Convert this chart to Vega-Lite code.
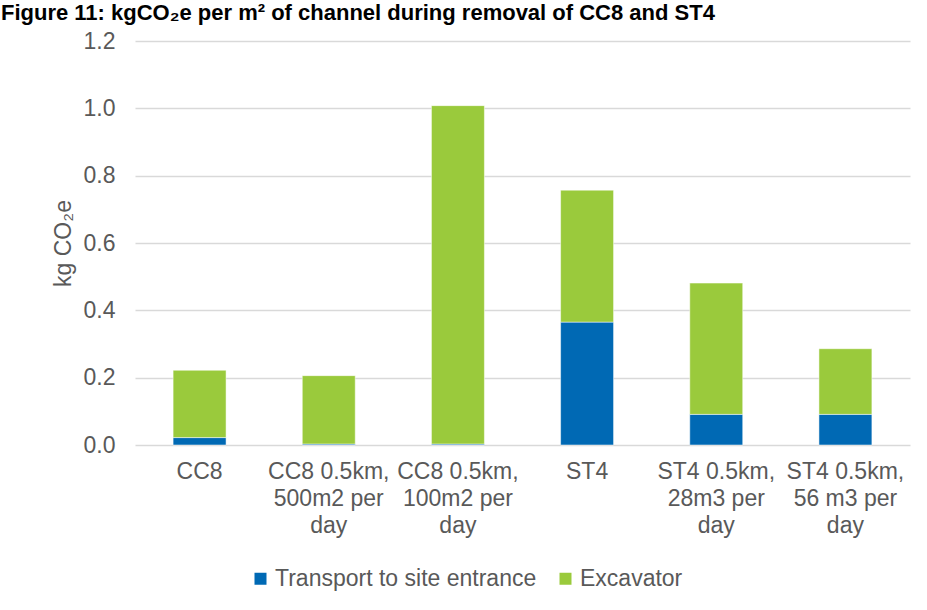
{
  "$schema": "https://vega.github.io/schema/vega-lite/v6.json",
  "autosize": {"type": "none"},
  "width": 775,
  "height": 404,
  "padding": {"left": 135, "top": 41, "right": 17, "bottom": 165},
  "background": "white",
  "title": {
    "text": "Figure 11: kgCO₂e per m² of channel during removal of CC8 and ST4",
    "anchor": "start",
    "frame": "group",
    "dx": -134,
    "dy": 13,
    "offset": 1,
    "fontSize": 22,
    "fontWeight": "bold",
    "font": "Liberation Sans",
    "color": "#000000",
    "baseline": "alphabetic"
  },
  "config": {
    "font": "Liberation Sans",
    "view": {"stroke": null}
  },
  "data": {
    "values": [
      {"scenario": "CC8", "source": "Transport to site entrance", "value": 0.022},
      {"scenario": "CC8", "source": "Excavator", "value": 0.2},
      {"scenario": "CC8 0.5km,|500m2 per|day", "source": "Transport to site entrance", "value": 0.003},
      {"scenario": "CC8 0.5km,|500m2 per|day", "source": "Excavator", "value": 0.203},
      {"scenario": "CC8 0.5km,|100m2 per|day", "source": "Transport to site entrance", "value": 0.003},
      {"scenario": "CC8 0.5km,|100m2 per|day", "source": "Excavator", "value": 1.005},
      {"scenario": "ST4", "source": "Transport to site entrance", "value": 0.365},
      {"scenario": "ST4", "source": "Excavator", "value": 0.392},
      {"scenario": "ST4 0.5km,|28m3 per|day", "source": "Transport to site entrance", "value": 0.091},
      {"scenario": "ST4 0.5km,|28m3 per|day", "source": "Excavator", "value": 0.39},
      {"scenario": "ST4 0.5km,|56 m3 per|day", "source": "Transport to site entrance", "value": 0.091},
      {"scenario": "ST4 0.5km,|56 m3 per|day", "source": "Excavator", "value": 0.195}
    ]
  },
  "mark": {"type": "bar", "stroke": "white", "strokeWidth": 0.5},
  "encoding": {
    "x": {
      "field": "scenario",
      "type": "nominal",
      "sort": null,
      "scale": {"paddingInner": 0.59, "paddingOuter": 0.295},
      "axis": {
        "title": null,
        "labelAngle": 0,
        "labelExpr": "split(datum.label, '|')",
        "labelFont": "Liberation Sans",
        "labelFontSize": 23,
        "labelColor": "#595959",
        "labelLineHeight": 27,
        "labelPadding": 15,
        "labelOverlap": false,
        "ticks": false,
        "domain": false,
        "labelBaseline": "top",
        "labelLimit": 300
      }
    },
    "y": {
      "field": "value",
      "type": "quantitative",
      "aggregate": "sum",
      "scale": {"domain": [0, 1.2], "nice": false},
      "axis": {
        "title": "kg CO₂e",
        "titleFont": "Liberation Sans",
        "titleFontSize": 23,
        "titleFontWeight": "normal",
        "titleColor": "#595959",
        "labelFont": "Liberation Sans",
        "labelFontSize": 23,
        "labelColor": "#595959",
        "values": [0, 0.2, 0.4, 0.6, 0.8, 1.0, 1.2],
        "format": ".1f",
        "ticks": false,
        "domain": false,
        "labelPadding": 20,
        "titlePadding": 8,
        "gridColor": "#d9d9d9",
        "gridWidth": 1.5
      }
    },
    "color": {
      "field": "source",
      "type": "nominal",
      "sort": ["Transport to site entrance", "Excavator"],
      "scale": {
        "domain": ["Transport to site entrance", "Excavator"],
        "range": ["#0069b4", "#9aca3c"]
      },
      "legend": {
        "title": null,
        "orient": "none",
        "direction": "horizontal",
        "legendX": 114,
        "legendY": 526,
        "padding": 0,
        "symbolType": "square",
        "symbolSize": 144,
        "symbolStrokeWidth": 0,
        "labelFont": "Liberation Sans",
        "labelFontSize": 23,
        "labelColor": "#595959",
        "labelLimit": 400,
        "labelOffset": 3,
        "columnPadding": 17
      }
    },
    "order": {"field": "source", "sort": "descending"}
  }
}
